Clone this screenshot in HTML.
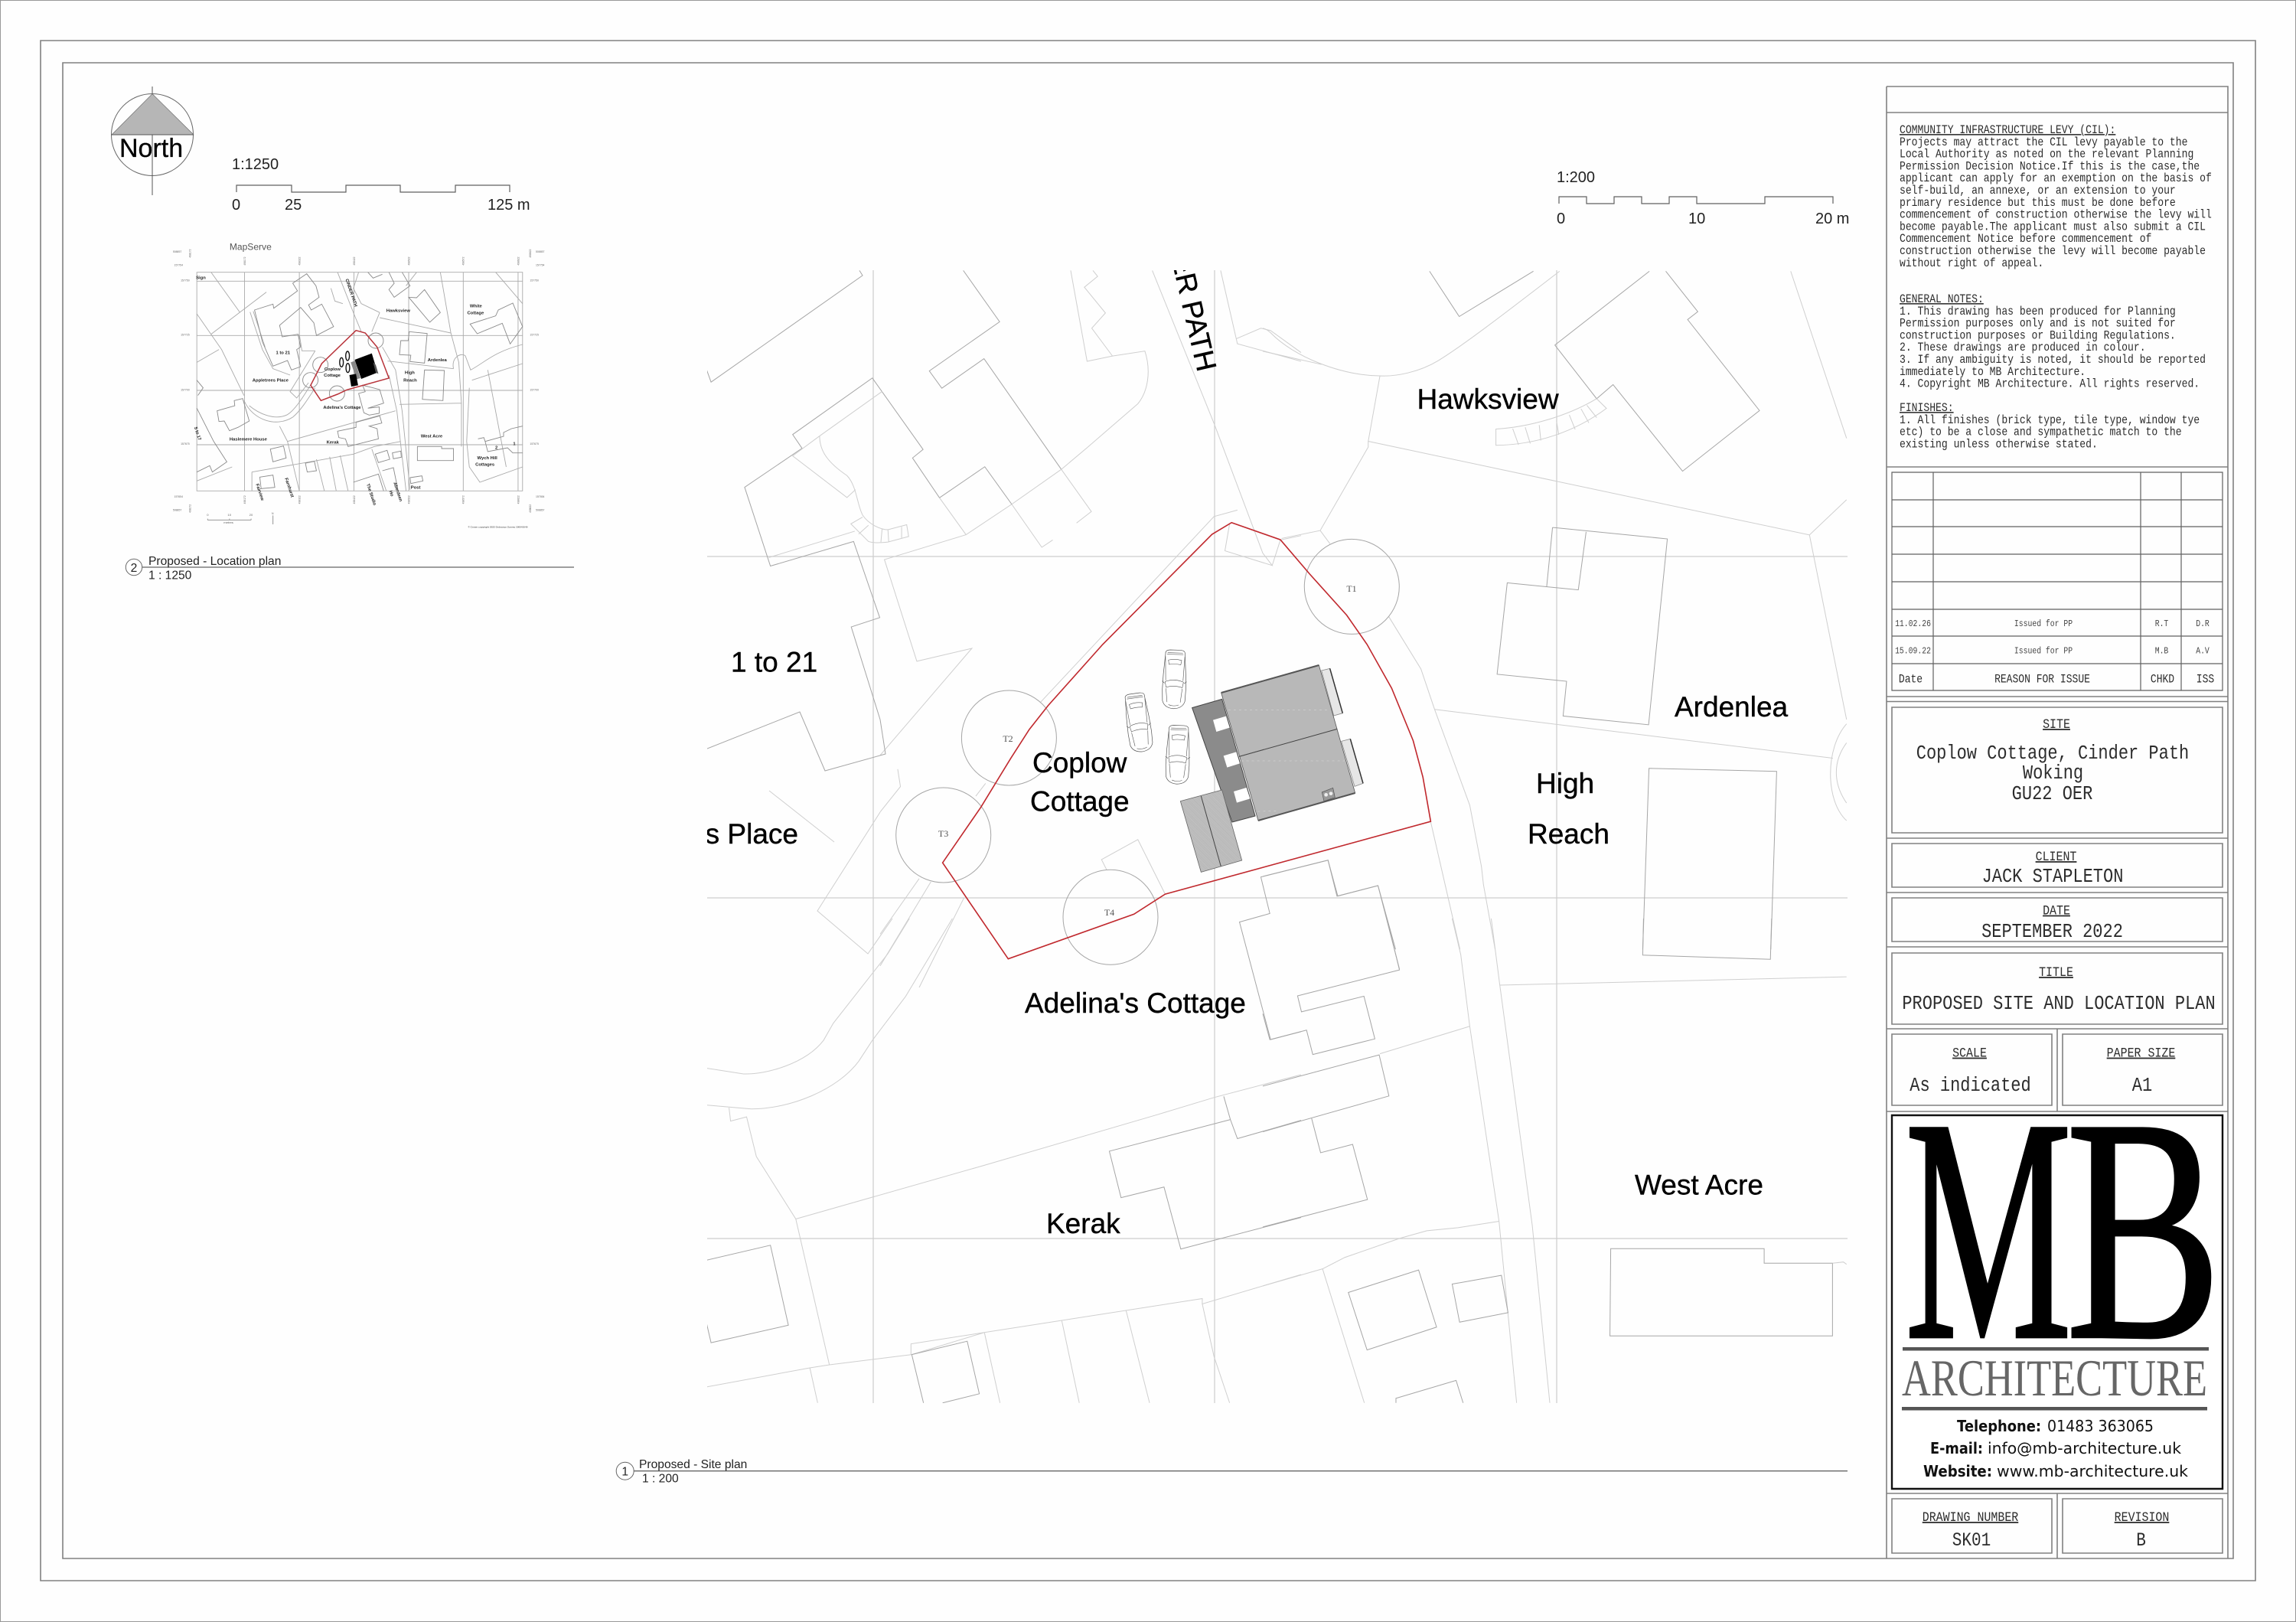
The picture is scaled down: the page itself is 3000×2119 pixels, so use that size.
<!DOCTYPE html>
<html><head><meta charset="utf-8"><title>Proposed Site and Location Plan</title>
<style>
html,body{margin:0;padding:0;background:#fefefe}
svg{display:block}
svg *{vector-effect:non-scaling-stroke}
.b{fill:none;stroke:#a6a6a6;stroke-width:1}
.r{fill:none;stroke:#cfcfcf;stroke-width:1}
.g{fill:none;stroke:#cdcdcd;stroke-width:1.2}
.f{fill:none;stroke:#808080;stroke-width:1.6}
.k{fill:none;stroke:#606060;stroke-width:1.2}
.m{font-family:"Liberation Mono",monospace;fill:#2c2c2c}
.s{font-family:"Liberation Sans",sans-serif;fill:#000}
.u{text-decoration:underline}
.lb{fill:none;stroke:#8a8a8a;stroke-width:.9}
.lg{fill:none;stroke:#aaa;stroke-width:.9}
.lt{font-family:"Liberation Sans",sans-serif;font-size:17px;font-weight:bold;fill:#222}
.tk{font-family:"Liberation Sans",sans-serif;font-size:10px;fill:#666}
.c{fill:#fff;stroke:#555;stroke-width:.7}
.cl{fill:none;stroke:#555;stroke-width:.6}
</style></head>
<body>
<svg xmlns="http://www.w3.org/2000/svg" width="3000" height="2119" viewBox="0 0 3000 2119">
<defs>
<pattern id="h" width="3" height="3" patternUnits="userSpaceOnUse" patternTransform="rotate(-16)">
<rect width="3" height="3" fill="#c4c4c4"/><rect width="3" height="1" fill="#a0a0a0"/></pattern>
<pattern id="h2" width="3" height="3" patternUnits="userSpaceOnUse" patternTransform="rotate(45)">
<rect width="3" height="3" fill="#c8c8c8"/><rect width="3" height="1" fill="#a4a4a4"/></pattern>
<clipPath id="site"><rect x="924" y="353" width="1490" height="1480"/></clipPath>
<g id="car">
<path class="c" d="M-38,-100 Q-40,-114 -20,-115 L20,-115 Q40,-114 38,-100 L44,-20 L46,40 L44,85 Q36,113 0,115 Q-36,113 -44,85 L-46,40 L-44,-20Z"/>
<path class="cl" d="M-30,-104 L30,-104 M-32,-98 L32,-98 M-26,-75 Q0,-82 26,-75 L23,-58 Q0,-62 -23,-58Z M-38,-90 L-34,5 M38,-90 L34,5 M-36,10 Q0,-5 36,10 L32,32 Q0,22 -32,32Z M-48,8 L-38,16 M48,8 L38,16 M-32,36 L-26,90 M32,36 L26,90 M-20,100 Q0,108 20,100"/>
</g>
</defs>
<rect width="3000" height="2119" fill="#fefefe"/>
<rect x=".5" y=".5" width="2999" height="2118" fill="none" stroke="#999" stroke-width="1"/>
<rect x="53" y="53" width="2894" height="2012" class="f"/>
<rect x="82" y="82" width="2836" height="1954" class="f"/>

<!-- North -->
<circle cx="199" cy="176" r="53.5" fill="none" stroke="#666" stroke-width="1"/>
<line x1="199" y1="113" x2="199" y2="255" stroke="#555" stroke-width="1"/>
<polygon points="199,122.6 146,176 253,176" fill="#b6b6b6" stroke="#666" stroke-width=".6"/>
<line x1="146" y1="176" x2="253" y2="176" stroke="#555" stroke-width="1"/>
<text class="s" x="156" y="205" font-size="34" stroke="#000" stroke-width=".3">North</text>

<!-- scale 1:1250 -->
<text class="s" x="303" y="221" font-size="20" style="fill:#222">1:1250</text>
<path class="k" d="M309 251V242H381V251H452V242H523V251H595V242H666V251"/>
<text class="s" x="303" y="274" font-size="20" style="fill:#222">0</text>
<text class="s" x="372" y="274" font-size="20" style="fill:#222">25</text>
<text class="s" x="637" y="274" font-size="20" style="fill:#222">125 m</text>

<!-- location map -->
<g transform="translate(200,310) scale(.34435,.33333)">
<text x="290" y="50" style="font-family:'Liberation Sans',sans-serif;font-size:35px;fill:#555">MapServe</text>
<rect x="166" y="137" width="1236" height="857" class="lg"/>
<path class="lg" d="M347 137V994M555 137V994M762 137V994M970 137V994M1177 137V994M1385 137V994M166 172H1402M166 385H1402M166 600H1402M166 813H1402"/>
<path class="lg" d="M220 137L330 295M220 380L430 215M166 300L260 440L345 620M166 490L250 440M345 640C380 720 470 745 530 705C560 680 590 630 615 590M365 660C400 690 460 720 510 695C540 675 570 625 600 575M480 740L510 800L555 994M510 800L920 680M375 920L760 850L840 820L940 800M375 920V994M700 137L762 300L790 370M860 295L830 370M860 315L1130 375L1160 490L1170 650L1170 820M890 485L1140 515M870 430L920 520L945 680L975 990M895 540L925 680L960 994M935 655L1170 650M1140 515C1130 470 1170 450 1185 465L1205 520C1260 490 1290 450 1402 420M1210 560L1402 495M1200 590L1190 800L1200 900L1240 960L1402 900M1090 137L1130 375M1300 137L1402 260M1270 520L1340 900M166 955L300 900M620 870L650 994M670 860L695 994M710 855L740 994M830 830L885 994M780 137L760 200L790 260L860 295M675 200L690 250L720 260M615 445L520 605L545 630L590 570M555 380L565 445L615 445M368 293L415 440L455 515L520 540M380 290L425 430M1000 137L960 190"/>
<path class="lb" d="M385 285L455 262L458 278L548 210L530 180L583 143L618 190L630 235L590 265L600 285L640 262L685 350L620 385L610 335L560 275L480 345L490 390L550 380L560 430L545 440L560 507L525 520L510 483L455 505L415 410Z"/>
<path class="lb" d="M243 680L310 660L308 640L340 632L365 720L322 745L290 758L270 720L250 722ZM166 670L230 800L280 880L225 920L215 895L166 920M166 560L190 590L170 620M1203 340L1300 308L1310 285L1365 258L1402 350L1355 418L1325 337L1230 378ZM815 137L835 160L870 145M895 137L915 180L895 205L915 235L975 190L945 137M1000 237L1030 205L1090 295L1050 333L970 235ZM940 405L968 405L972 370L1040 377L1030 493L975 487L978 462L935 460ZM1030 520L1105 522L1100 640L1022 635ZM780 612L805 605L795 580L835 590L860 597L875 650L815 670L858 665L858 690L820 697L800 688ZM700 760L770 745L770 725L860 700L868 728L820 740L850 750L855 790L740 820L730 790L705 785ZM1003 820L1095 820L1095 828L1140 828L1140 875L1003 875ZM1233 790L1255 785L1260 800L1330 780L1330 765L1360 750L1402 740M1260 800L1270 840L1345 825L1365 845L1402 845M445 830L495 818L505 865L455 880ZM578 885L612 878L620 915L585 920ZM843 850L888 835L898 870L855 883ZM908 845L940 838L942 862L912 868ZM975 942L1020 935L1024 955L978 965ZM870 915L912 903L930 994M760 960L855 928L875 994M405 940L455 932L462 980L410 985Z"/>
<ellipse cx="845" cy="405" rx="29" ry="30" class="lb"/><ellipse cx="635" cy="500" rx="29" ry="30" class="lb"/><ellipse cx="597" cy="560" rx="29" ry="30" class="lb"/><ellipse cx="698" cy="612" rx="29" ry="30" class="lb"/>
<polygon points="750,490 766,484 787,552 772,556" fill="#888"/>
<polygon points="765,480 830,455 852,530 790,555" fill="#000"/>
<polygon points="745,540 770,535 778,580 752,585" fill="#000"/>
<polygon points="835,490 845,500 855,535 845,530" fill="#555"/>
<ellipse cx="715" cy="490" rx="7" ry="18" fill="#fff" stroke="#111" stroke-width="1.4"/>
<ellipse cx="738" cy="465" rx="7" ry="18" fill="#fff" stroke="#111" stroke-width="1.4"/>
<ellipse cx="739" cy="512" rx="7" ry="18" fill="#fff" stroke="#111" stroke-width="1.4"/>
<path d="M770 365L805 375L850 430L895 552L735 598L700 615L637 640L598 580L640 495Z" fill="none" stroke="#b8333a" stroke-width="1.5"/>
<text class="lt" x="163" y="163">Sign</text>
<text class="lt" transform="translate(730,165) rotate(72)">CINDER PATH</text>
<text class="lt" x="885" y="292">Hawksview</text>
<text class="lt" x="1202" y="275">White</text><text class="lt" x="1192" y="302">Cottage</text>
<text class="lt" x="466" y="458">1 to 21</text><text class="lt" x="1042" y="486">Ardenlea</text>
<text class="lt" x="650" y="522">Coplow</text><text class="lt" x="648" y="546">Cottage</text>
<text class="lt" x="955" y="535">High</text><text class="lt" x="950" y="566">Reach</text>
<text class="lt" x="377" y="566">Appletrees Place</text><text class="lt" x="646" y="672">Adelina's Cottage</text>
<text class="lt" x="1016" y="785">West Acre</text><text class="lt" x="290" y="797">Haslemere House</text>
<text class="lt" x="658" y="808">Kerak</text><text class="lt" x="1298" y="830">2</text><text class="lt" x="1366" y="815">1</text>
<text class="lt" x="1230" y="870">Wych Hill</text><text class="lt" x="1223" y="895">Cottages</text>
<text class="lt" transform="translate(156,745) rotate(72)">5 to 17</text>
<text class="lt" transform="translate(390,968) rotate(72)">Fairview</text>
<text class="lt" transform="translate(500,945) rotate(72)">Farnhurst</text>
<text class="lt" transform="translate(810,968) rotate(72)">The Studio</text>
<text class="lt" transform="translate(896,995) rotate(72)">Ho</text>
<text class="lt" transform="translate(912,962) rotate(72)">Aberdeen</text>
<text class="lt" x="978" y="985">Post</text>
<g class="tk">
<text class="tk" transform="translate(144,80) rotate(-90)">498172</text><text class="tk" transform="translate(351,110) rotate(-90)">498172</text><text class="tk" transform="translate(559,110) rotate(-90)">498322</text><text class="tk" transform="translate(766,110) rotate(-90)">498422</text><text class="tk" transform="translate(974,110) rotate(-90)">498522</text><text class="tk" transform="translate(1181,110) rotate(-90)">498572</text><text class="tk" transform="translate(1389,110) rotate(-90)">498622</text><text class="tk" transform="translate(1434,80) rotate(-90)">498622</text>
<text class="tk" transform="translate(144,1080) rotate(-90)">498172</text><text class="tk" transform="translate(351,1045) rotate(-90)">498172</text><text class="tk" transform="translate(559,1045) rotate(-90)">498322</text><text class="tk" transform="translate(766,1045) rotate(-90)">498422</text><text class="tk" transform="translate(974,1045) rotate(-90)">498522</text><text class="tk" transform="translate(1181,1045) rotate(-90)">498572</text><text class="tk" transform="translate(1389,1045) rotate(-90)">498622</text><text class="tk" transform="translate(1434,1080) rotate(-90)">498622</text>
<text class="tk" x="75" y="60">508857</text><text class="tk" x="80" y="112">157754</text><text class="tk" x="105" y="172">157750</text><text class="tk" x="105" y="386">157725</text><text class="tk" x="105" y="601">157700</text><text class="tk" x="105" y="813">157675</text><text class="tk" x="80" y="1020">157654</text><text class="tk" x="75" y="1072">508857</text>
<text class="tk" x="1452" y="60">508857</text><text class="tk" x="1452" y="112">157754</text><text class="tk" x="1430" y="172">157750</text><text class="tk" x="1430" y="386">157725</text><text class="tk" x="1430" y="601">157700</text><text class="tk" x="1430" y="813">157675</text><text class="tk" x="1452" y="1020">157654</text><text class="tk" x="1452" y="1072">508857</text>
<text class="tk" x="204" y="1092" style="font-size:12px">0</text><text class="tk" x="283" y="1092" style="font-size:12px">10</text><text class="tk" x="365" y="1092" style="font-size:12px">20</text>
<text class="tk" x="268" y="1122" style="font-size:12px">metres</text>
<text class="tk" x="1195" y="1138" style="font-size:9px;font-weight:bold">© Crown copyright 2022 Ordnance Survey 100041040</text>
<text class="tk" x="450" y="1086" style="font-size:10px">N</text>
</g>
<path class="lb" d="M207 1108H372M207 1103V1108M290 1103V1108M372 1103V1108M455 1090V1125"/>
</g>
<circle cx="175" cy="741" r="10.7" fill="#fff" stroke="#666" stroke-width="1"/>
<line x1="186" y1="741" x2="750" y2="741" stroke="#666" stroke-width="1.2"/>
<text class="s" x="175" y="747" font-size="15.6" text-anchor="middle" style="fill:#222">2</text>
<text class="s" x="194" y="738" font-size="15.6" style="fill:#222">Proposed - Location plan</text>
<text class="s" x="194" y="756.5" font-size="15.6" style="fill:#222">1 : 1250</text>

<!-- scale 1:200 -->
<text class="s" x="2034" y="238" font-size="20" style="fill:#222">1:200</text>
<path class="k" d="M2037 266V257H2073V266H2109V257H2145V266H2181V257H2217V266H2306V257H2395V266"/>
<text class="s" x="2034" y="292" font-size="20" style="fill:#222">0</text>
<text class="s" x="2206" y="292" font-size="20" style="fill:#222">10</text>
<text class="s" x="2372" y="292" font-size="20" style="fill:#222">20 m</text>

<!-- site plan -->
<g clip-path="url(#site)">
<path class="g" d="M1141 353V1833M1587 353V1833M2034 353V1833M924 727H2414M924 1173H2414M924 1618H2414"/>
<!-- from crop top-left -->
<g transform="translate(900,340) scale(.5102,.38265)">
<polyline class="b" points="46,375 57,416 445,52 437,35"/>
<polyline class="b" points="703,35 796,210 616,378 648,437 756,336 954,714"/>
<polyline class="r" points="954,714 827,833 710,937 501,1022 584,1369 725,1325 490,1690"/>
<polyline class="b" points="490,1568 416,1252 489,1220 422,960 209,1044 143,775 290,642 266,595 470,402 600,646 573,675 642,811 758,705 827,833"/>
<polyline class="r" points="827,833 904,980 932,955"/>
<polyline class="r" points="993,897 1031,858 954,714"/>
<polyline class="r" points="642,811 710,937"/>
<polyline class="r" points="495,448 335,600 266,668 405,810 427,783"/>
<path class="r" d="M335 600C335 650 355 690 405 735C430 770 430 830 445 870C460 900 490 920 510 920L558 903L563 943L510 962C490 965 470 965 460 960L415 900L445 877M205 1015L425 925M460 905L435 935M495 918L492 962M510 920L512 962M545 910L545 948"/>
<path class="r" d="M954 714L1020 640L1150 490C1175 450 1185 380 1168 310L1085 327L1020 345L978 35M1085 327L1032 232L1067 180L1013 92L1047 55L1035 35"/>
<polyline class="r" points="1187,35 1346,560 1470,1000 1494,1042 1373,992 1385,900"/>
<path class="r" d="M1494 1042L1515 955L1568 940M1362 35L1402 268L1405 285L1568 345M1402 268L1465 232L1490 240L1568 315M1405 853L1345 875L900 1510"/>
</g>
<!-- right upper -->
<g transform="translate(1650,340) scale(.5102,.57415)">
<polyline class="b" points="427,25 503,128 693,25"/>
<path class="r" d="M760 25C650 100 520 190 450 228C400 255 340 265 300 263C200 262 80 220 20 165C10 157 5 155 0 155M0 207L150 237M300 263L270 412L270 425L147 615L48 633M147 615L172 645M270 412L1400 625L1495 545M1400 625L1470 935L1495 1045M1352 25L1495 405"/>
<polyline class="b" points="990,25 748,193 855,315 897,283 1075,480 1272,342 1088,135 1114,117 1032,25"/>
<path class="r" d="M597 384C680 380 780 355 855 315L880 337C800 390 700 420 597 421ZM640 383L655 420M672 380L685 417M708 375L712 410M752 365L758 397M785 352L800 385M815 338L835 370M830 330L855 358"/>
<polyline class="b" points="742,608 1036,634 988,1057 769,1037 778,958 600,942 626,734 808,750 828,618"/>
<polyline class="b" points="742,608 727,743"/>
<path class="r" d="M440 1022L1460 1133M322 810L405 930L440 1022L530 1240L560 1380L565 1420L595 1568M430 1278L505 1568M1495 1055C1440 1110 1440 1230 1495 1275M1495 1098C1460 1140 1460 1190 1495 1235"/>
<polyline class="b" points="973,1568 989,1156 1316,1163 1301,1568"/>
<polyline class="b" points="0,1402 167,1365 190,1447 295,1423 340,1568"/>
</g>
<!-- middle -->
<g transform="translate(1150,640) scale(.5102,.41454)">
<polyline class="r" points="580,1197 567,1165 660,1102 730,1274"/>
<polyline class="b" points="920,1362 998,1335 975,1220 1147,1167 1172,1280 1275,1247 1330,1510"/>
<polyline class="r" points="45,880 52,935 0,1015"/>
<path class="r" d="M270 925L245 965M100 1225L0 1400M130 1235L0 1500M215 1285L100 1568"/>
</g>
<!-- left middle from overview -->
<polyline class="b" points="1150,940 1157,985 1078,1007 1045,930 924,978"/>
<polyline class="r" points="1150,1061 1068,1190 1134,1246 1166,1200"/>
<polyline class="r" points="1090,1100 1005,1033"/>
<!-- lower left -->
<g transform="translate(900,1200) scale(.5102,.49745)">
<path class="r" d="M565 0L510 92L370 275L345 320C300 380 200 410 140 408L46 393M675 0L555 205L470 320L435 375C380 450 260 500 160 500L46 490M103 497L107 532L148 521L173 625L274 789L360 1172M274 789L750 650L1200 515L1345 470L1568 410M46 1230L310 1180L360 1172L571 1145L757 1087M569 1145L569 1117L1315 998L1315 1012L1568 935M310 1180L330 1272M757 1087L797 1272M955 1055L1000 1272M1120 1030L1180 1272M1315 1012L1345 1150L1385 1272"/>
<polyline class="b" points="601,1272 571,1145 713,1110 744,1248 650,1272"/>
<polyline class="b" points="46,897 209,858 255,1068 57,1114 46,1065"/>
<polyline class="b" points="1370,467 1387,528 1405,578 1568,530"/>
<polyline class="b" points="1387,528 1077,611 1107,733 1217,705 1260,868 1568,785"/>
<polyline class="b" points="1410,8 1490,318 1568,297"/>
</g>
<!-- lower right -->
<g transform="translate(1650,1200) scale(.5102,.49745)">
<path class="r" d="M485 0L507 95L530 283L605 795L650 1272M585 0L607 175L690 805L735 1272M607 175L1495 153M300 355L530 283M0 965L153 920L260 1272M153 920L210 890L350 840L420 820L500 812L605 795"/>
<polyline class="b" points="975,0 973,96 1300,107 1303,0"/>
<polyline class="b" points="0,250 18,318 112,293 128,357 287,316 259,204 99,245 89,203 350,135 318,0"/>
<polyline class="b" points="0,440 298,358 323,466 0,560"/>
<polyline class="b" points="125,525 148,615 230,593 268,738 0,810"/>
<polygon class="b" points="219,982 399,923 445,1073 267,1133"/>
<polygon class="b" points="485,960 611,937 628,1035 504,1060"/>
<polyline class="b" points="341,1272 341,1260 495,1213 513,1272"/>
<polygon class="b" points="891,867 1284,867 1284,905 1459,905 1459,1096 889,1096"/>
<polyline class="r" points="1459,905 1487,902 1495,908"/>
</g>
<!-- trees -->
<circle class="b" cx="1766.3" cy="766.4" r="62"/>
<circle class="b" cx="1318.4" cy="964" r="62"/>
<circle class="b" cx="1232.7" cy="1091" r="62"/>
<circle class="b" cx="1451" cy="1198.3" r="62"/>
<g font-family="Liberation Serif,serif" font-size="12" fill="#555" text-anchor="middle">
<text x="1766" y="773">T1</text><text x="1317" y="969">T2</text><text x="1232.6" y="1093">T3</text><text x="1449.5" y="1196">T4</text>
</g>
<!-- house -->
<g transform="translate(1440,820) scale(.33333)">
<polygon points="353,314 470,280 600,738 510,762" fill="#8b8b8b" stroke="#444" stroke-width="1"/>
<polygon points="435,362 486,347 500,392 448,408" fill="#fff"/>
<polygon points="476,502 526,487 540,532 490,548" fill="#fff"/>
<polygon points="516,642 566,627 580,670 528,686" fill="#fff"/>
<polygon points="860,168 893,160 943,335 908,345" fill="#e6e6e6" stroke="#888" stroke-width=".8"/>
<line x1="893" y1="160" x2="943" y2="335" stroke="#333" stroke-width="1.5"/>
<polygon points="938,445 973,436 1023,610 990,622" fill="#e6e6e6" stroke="#888" stroke-width=".8"/>
<line x1="973" y1="436" x2="1023" y2="610" stroke="#333" stroke-width="1.5"/>
<polygon points="467,255 850,147 992,648 612,756" fill="url(#h)" stroke="#555" stroke-width=".8"/>
<line x1="467" y1="255" x2="850" y2="147" stroke="#555" stroke-width="2"/>
<line x1="612" y1="756" x2="992" y2="648" stroke="#555" stroke-width="2"/>
<line x1="537" y1="505" x2="922" y2="397" stroke="#444" stroke-width="1"/>
<path d="M495 323H890M545 522H950M610 720L690 718" stroke="#ddd" stroke-width=".5" stroke-dasharray="3 4" fill="none"/>
<polygon points="307,680 470,636 548,912 388,958" fill="url(#h2)" stroke="#666" stroke-width=".8"/>
<line x1="388" y1="660" x2="466" y2="936" stroke="#444" stroke-width="1"/>
<polygon points="862,645 905,628 913,665 870,680" fill="#999" stroke="#555" stroke-width=".7"/>
<circle cx="878" cy="655" r="7" fill="#eee"/><circle cx="897" cy="650" r="7" fill="#eee"/>
</g>
<!-- cars -->
<use href="#car" transform="translate(1534.5,887.5) rotate(2) scale(.333)"/>
<use href="#car" transform="translate(1487.5,944) rotate(-8) scale(.333)"/>
<use href="#car" transform="translate(1539,986) rotate(2) scale(.333)"/>
<!-- red boundary -->
<g transform="translate(1150,640) scale(.5102,.41454)">
<path d="M900 103L1025 157L1100 265L1195 395L1247 487L1310 625L1365 790L1390 905L1410 1045L730 1274L650 1337L328 1478L160 1175L258 1000L335 845L382 755L430 680L570 487L850 140Z" fill="none" stroke="#c0282d" stroke-width="1.6"/>
</g>
<!-- labels -->
<g class="s" font-size="37" font-family="Liberation Sans,sans-serif" stroke="#000" stroke-width=".4">
<text x="1349" y="1009">Coplow</text><text x="1346" y="1059.5">Cottage</text>
<text x="955" y="877.5">1 to 21</text>
<text x="1043" y="1102" text-anchor="end">Appletrees Place</text>
<text x="1851.5" y="534">Hawksview</text><text x="2188" y="936">Ardenlea</text>
<text x="2007" y="1036">High</text><text x="1996" y="1102">Reach</text>
<text x="1339" y="1323">Adelina's Cottage</text><text x="1367" y="1611">Kerak</text>
<text x="2136" y="1560.5">West Acre</text>
<text transform="translate(1565,487) rotate(77)" text-anchor="end">CINDER PATH</text>
</g>
</g>
<circle cx="816.7" cy="1921.7" r="11.5" fill="#fff" stroke="#666" stroke-width="1"/>
<line x1="828" y1="1921.7" x2="2414" y2="1921.7" stroke="#666" stroke-width="1.4"/>
<text class="s" x="816.7" y="1927.5" font-size="15.6" text-anchor="middle" style="fill:#222">1</text>
<text class="s" x="835" y="1918" font-size="15.6" style="fill:#222">Proposed - Site plan</text>
<text class="s" x="839" y="1936.7" font-size="15.6" style="fill:#222">1 : 200</text>

<!-- title block frames -->
<path class="f" d="M2465 113H2911V2036M2465 113V2036M2465 147H2911M2465 610H2911M2465 910H2911M2465 916.5H2911M2465 1095H2911M2465 1166H2911M2465 1237H2911M2465 1344H2911M2465 1452H2911M2465 1951H2911M2688 1344V1452M2688 1951V2036"/>
<path class="k" d="M2472 617H2904V902H2472ZM2472 653H2904M2472 688H2904M2472 724H2904M2472 760H2904M2472 796H2904M2472 831H2904M2472 867H2904M2526 617V902M2797 617V902M2850 617V902"/>
<g class="f">
<rect x="2472" y="924" width="432" height="164" class="f"/>
<rect x="2472" y="1102" width="432" height="57" class="f"/>
<rect x="2472" y="1173" width="432" height="57" class="f"/>
<rect x="2472" y="1245" width="432" height="93" class="f"/>
<rect x="2472" y="1351" width="209" height="93" class="f"/>
<rect x="2695" y="1351" width="209" height="93" class="f"/>
<rect x="2472" y="1958" width="209" height="71" class="f"/>
<rect x="2695" y="1958" width="209" height="71" class="f"/>
</g>
<rect x="2472" y="1457" width="432" height="488" fill="#fff" stroke="#111" stroke-width="2.4"/>

<!-- notes -->
<g class="m" transform="translate(2482,0) scale(.844,1)" font-size="15.5">
<text class="m u" y="174">COMMUNITY INFRASTRUCTURE LEVY (CIL):</text>
<text class="m" y="189.8">Projects may attract the CIL levy payable to the</text>
<text class="m" y="205.6">Local Authority as noted on the relevant Planning</text>
<text class="m" y="221.4">Permission Decision Notice.If this is the case,the</text>
<text class="m" y="237.2">applicant can apply for an exemption on the basis of</text>
<text class="m" y="253">self-build, an annexe, or an extension to your</text>
<text class="m" y="268.8">primary residence but this must be done before</text>
<text class="m" y="284.6">commencement of construction otherwise the levy will</text>
<text class="m" y="300.4">become payable.The applicant must also submit a CIL</text>
<text class="m" y="316.2">Commencement Notice before commencement of</text>
<text class="m" y="332">construction otherwise the levy will become payable</text>
<text class="m" y="347.8">without right of appeal.</text>
<text class="m u" y="395">GENERAL NOTES:</text>
<text class="m" y="410.8">1. This drawing has been produced for Planning</text>
<text class="m" y="426.6">Permission purposes only and is not suited for</text>
<text class="m" y="442.4">construction purposes or Building Regulations.</text>
<text class="m" y="458.2">2. These drawings are produced in colour.</text>
<text class="m" y="474">3. If any ambiguity is noted, it should be reported</text>
<text class="m" y="489.8">immediately to MB Architecture.</text>
<text class="m" y="505.6">4. Copyright MB Architecture. All rights reserved.</text>
<text class="m u" y="537">FINISHES:</text>
<text class="m" y="552.8">1. All finishes (brick type, tile type, window tye</text>
<text class="m" y="568.6">etc) to be a close and sympathetic match to the</text>
<text class="m" y="584.4">existing unless otherwise stated.</text>
</g>

<!-- revision table text -->
<g>
<text class="m" transform="translate(2499.5,818) scale(.835,1)" font-size="11.7" text-anchor="middle" style="fill:#444">11.02.26</text>
<text class="m" transform="translate(2670,818) scale(.835,1)" font-size="11.7" text-anchor="middle" style="fill:#444">Issued for PP</text>
<text class="m" transform="translate(2824.5,818) scale(.835,1)" font-size="11.7" text-anchor="middle" style="fill:#444">R.T</text>
<text class="m" transform="translate(2878,818) scale(.835,1)" font-size="11.7" text-anchor="middle" style="fill:#444">D.R</text>
<text class="m" transform="translate(2499.5,853.6) scale(.835,1)" font-size="11.7" text-anchor="middle" style="fill:#444">15.09.22</text>
<text class="m" transform="translate(2670,853.6) scale(.835,1)" font-size="11.7" text-anchor="middle" style="fill:#444">Issued for PP</text>
<text class="m" transform="translate(2824.5,853.6) scale(.835,1)" font-size="11.7" text-anchor="middle" style="fill:#444">M.B</text>
<text class="m" transform="translate(2878,853.6) scale(.835,1)" font-size="11.7" text-anchor="middle" style="fill:#444">A.V</text>
</g>
<text class="m" transform="translate(2496.5,891.5) scale(.84,1)" font-size="15.5" text-anchor="middle">Date</text>
<text class="m" transform="translate(2668.5,891.5) scale(.84,1)" font-size="15.5" text-anchor="middle">REASON FOR ISSUE</text>
<text class="m" transform="translate(2825.5,891.5) scale(.84,1)" font-size="15.5" text-anchor="middle">CHKD</text>
<text class="m" transform="translate(2881.5,891.5) scale(.84,1)" font-size="15.5" text-anchor="middle">ISS</text>

<!-- title fields -->
<text class="m u" transform="translate(2687,951) scale(.84,1)" font-size="17.8" text-anchor="middle">SITE</text>
<text class="m" transform="translate(2682,991) scale(.84,1)" font-size="26.2" text-anchor="middle">Coplow Cottage, Cinder Path</text>
<text class="m" transform="translate(2682.5,1017) scale(.84,1)" font-size="26.2" text-anchor="middle">Woking</text>
<text class="m" transform="translate(2681.5,1044) scale(.84,1)" font-size="26.2" text-anchor="middle">GU22 OER</text>
<text class="m u" transform="translate(2686.5,1124) scale(.84,1)" font-size="17.8" text-anchor="middle">CLIENT</text>
<text class="m" transform="translate(2682,1152) scale(.84,1)" font-size="26.2" text-anchor="middle">JACK STAPLETON</text>
<text class="m u" transform="translate(2687,1194.5) scale(.84,1)" font-size="17.8" text-anchor="middle">DATE</text>
<text class="m" transform="translate(2681.5,1224) scale(.84,1)" font-size="26.2" text-anchor="middle">SEPTEMBER 2022</text>
<text class="m u" transform="translate(2686.5,1275) scale(.84,1)" font-size="17.8" text-anchor="middle">TITLE</text>
<text class="m" transform="translate(2690,1318) scale(.84,1)" font-size="26.2" text-anchor="middle">PROPOSED SITE AND LOCATION PLAN</text>
<text class="m u" transform="translate(2573.5,1380.5) scale(.84,1)" font-size="17.8" text-anchor="middle">SCALE</text>
<text class="m" transform="translate(2574.5,1425) scale(.84,1)" font-size="26.2" text-anchor="middle">As indicated</text>
<text class="m u" transform="translate(2797.5,1380.5) scale(.84,1)" font-size="17.8" text-anchor="middle">PAPER SIZE</text>
<text class="m" transform="translate(2799,1425) scale(.84,1)" font-size="26.2" text-anchor="middle">A1</text>
<text class="m u" transform="translate(2574.5,1987) scale(.84,1)" font-size="17.8" text-anchor="middle">DRAWING NUMBER</text>
<text class="m" transform="translate(2576,2019) scale(.84,1)" font-size="25" text-anchor="middle">SK01</text>
<text class="m u" transform="translate(2798.5,1987) scale(.84,1)" font-size="17.8" text-anchor="middle">REVISION</text>
<text class="m" transform="translate(2797.5,2019) scale(.84,1)" font-size="25" text-anchor="middle">B</text>

<!-- logo -->
<text transform="translate(2489,1746.5) scale(.59,1)" font-family="Liberation Serif,serif" font-size="416" fill="#000" stroke="#000" stroke-width="3">M</text>
<text transform="translate(2699,1746.5) scale(.735,1)" font-family="Liberation Serif,serif" font-size="416" fill="#000" stroke="#000" stroke-width="3">B</text>
<rect x="2486" y="1760" width="400" height="4.5" fill="#555"/>
<text x="2485" y="1823" font-family="Liberation Serif,serif" font-size="68" fill="#666" textLength="399" lengthAdjust="spacingAndGlyphs">ARCHITECTURE</text>
<rect x="2485" y="1838" width="399" height="4.5" fill="#555"/>
<g font-family="DejaVu Sans,sans-serif" font-size="20" fill="#111">
<text x="2557" y="1870" font-weight="bold" textLength="110" lengthAdjust="spacingAndGlyphs">Telephone:</text>
<text x="2675" y="1870" textLength="139" lengthAdjust="spacingAndGlyphs">01483 363065</text>
<text x="2522" y="1899" font-weight="bold" textLength="69" lengthAdjust="spacingAndGlyphs">E-mail:</text>
<text x="2597" y="1899" textLength="253" lengthAdjust="spacingAndGlyphs">info@mb-architecture.uk</text>
<text x="2513" y="1929" font-weight="bold" textLength="90" lengthAdjust="spacingAndGlyphs">Website:</text>
<text x="2609" y="1929" textLength="250" lengthAdjust="spacingAndGlyphs">www.mb-architecture.uk</text>
</g>
</svg>
</body></html>
